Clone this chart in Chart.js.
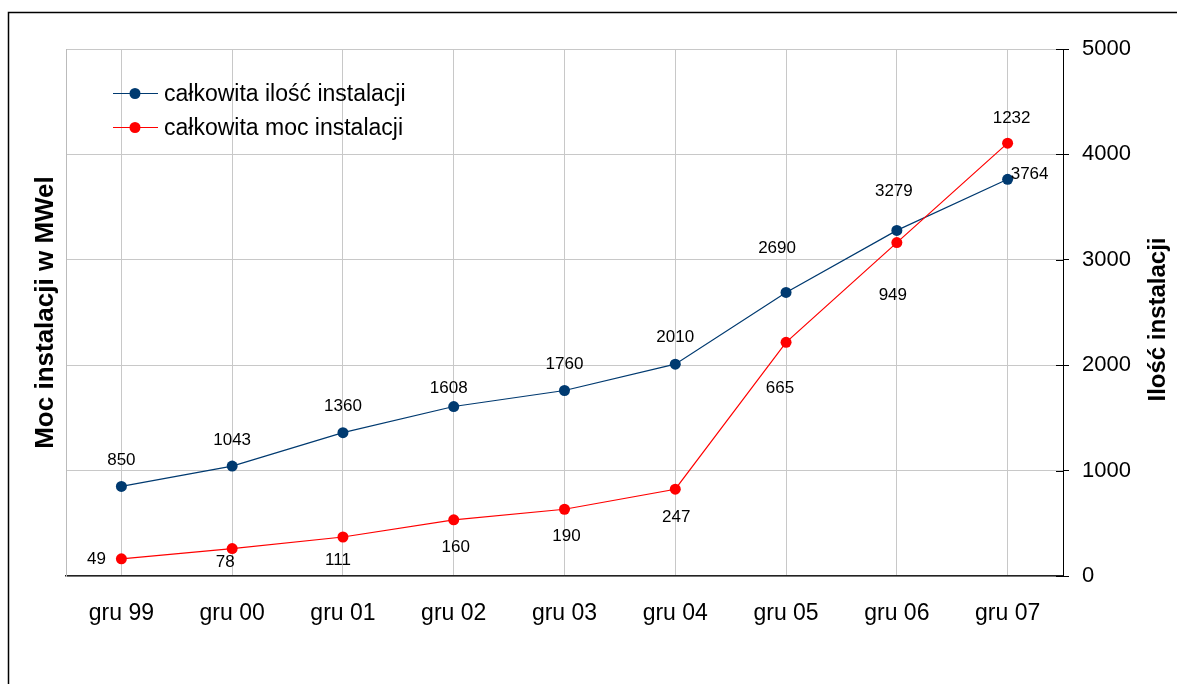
<!DOCTYPE html>
<html>
<head>
<meta charset="utf-8">
<script src="https://cdn.jsdelivr.net/npm/chart.js@4"></script>
<style>
  html, body { margin: 0; padding: 0; background: #fff; }
  #wrap { width: 1177px; height: 684px; position: relative; }
  canvas { display: block; }
</style>
</head>
<body>
<div id="wrap"><canvas id="chart" width="1177" height="684"></canvas></div>
<script>
// Months (December of each year)
const categories = ['gru 99', 'gru 00', 'gru 01', 'gru 02', 'gru 03', 'gru 04', 'gru 05', 'gru 06', 'gru 07'];
// Total number of installations (right axis)
const installCount = [850, 1043, 1360, 1608, 1760, 2010, 2690, 3279, 3764];
// Total installed power in MWel (left axis, 0–1500)
const installPower = [49, 78, 111, 160, 190, 247, 665, 949, 1232];
// Right axis tick values
const countTicks = [0, 1000, 2000, 3000, 4000, 5000];

const FONT = "'Liberation Sans', Arial, sans-serif";
const BLUE = '#003a70';
const RED = '#ff0000';
const GRID = '#c8c8c8';
const RIGHT_TITLE = 'Ilość instalacji';

// Label placement relative to each point (dx, dy)
const labelOffsets = {
  count: [[0, -27], [0, -27], [0, -27], [-5, -19], [0, -27], [0, -28], [-9, -45], [-3, -40], [22, -6]],
  power: [[-25, 0], [-7, 13], [-5, 22], [2, 27], [2, 26], [1, 27], [-6, 45], [-4, 52], [4, -26]]
};

const framePlugin = {
  id: 'frame',
  beforeDraw(chart) {
    const ctx = chart.ctx;
    ctx.save();
    ctx.fillStyle = '#fff';
    ctx.fillRect(0, 0, chart.width, chart.height);
    ctx.strokeStyle = '#000';
    ctx.lineWidth = 1.5;
    ctx.strokeRect(8.5, 12.5, chart.width + 20, chart.height + 20);
    ctx.restore();
  }
};

const innerTicksPlugin = {
  id: 'innerTicks',
  beforeDatasetsDraw(chart) {
    const s = chart.scales.yCount;
    const ctx = chart.ctx;
    const r = chart.chartArea.right;
    ctx.save();
    ctx.strokeStyle = '#000';
    ctx.lineWidth = 1;
    s.ticks.forEach(t => {
      const y = Math.round(s.getPixelForValue(t.value)) + 0.5;
      ctx.beginPath();
      ctx.moveTo(r - 7, y);
      ctx.lineTo(r, y);
      ctx.stroke();
    });
    ctx.restore();
  }
};

// Right axis title, reading bottom to top
const rightTitlePlugin = {
  id: 'rightTitle',
  afterDraw(chart) {
    const ctx = chart.ctx;
    const a = chart.chartArea;
    ctx.save();
    ctx.translate(1158, (a.top + a.bottom) / 2 + 7);
    ctx.rotate(-Math.PI / 2);
    ctx.fillStyle = '#000';
    ctx.font = 'bold 24px ' + FONT;
    ctx.textAlign = 'center';
    ctx.textBaseline = 'middle';
    ctx.fillText(RIGHT_TITLE, 0, 0);
    ctx.restore();
  }
};

const valueLabelsPlugin = {
  id: 'valueLabels',
  afterDatasetsDraw(chart) {
    const ctx = chart.ctx;
    ctx.save();
    ctx.fillStyle = '#000';
    ctx.font = '17px ' + FONT;
    ctx.textAlign = 'center';
    ctx.textBaseline = 'middle';
    chart.data.datasets.forEach((ds, di) => {
      const meta = chart.getDatasetMeta(di);
      const offs = labelOffsets[ds.key];
      meta.data.forEach((pt, i) => {
        const o = offs[i];
        ctx.fillText(String(ds.data[i]), pt.x + o[0], pt.y + o[1] + 1);
      });
    });
    ctx.restore();
  }
};

const legendPlugin = {
  id: 'insideLegend',
  afterDraw(chart) {
    const ctx = chart.ctx;
    ctx.save();
    ctx.font = '23px ' + FONT;
    ctx.textBaseline = 'middle';
    ctx.textAlign = 'left';
    chart.data.datasets.forEach((ds, i) => {
      const y = 93 + i * 34;
      ctx.strokeStyle = ds.borderColor;
      ctx.lineWidth = 1;
      ctx.beginPath();
      ctx.moveTo(113, y + 0.5);
      ctx.lineTo(158, y + 0.5);
      ctx.stroke();
      ctx.fillStyle = ds.pointBackgroundColor;
      ctx.beginPath();
      ctx.arc(135, y + 0.5, 5.5, 0, Math.PI * 2);
      ctx.fill();
      ctx.fillStyle = '#000';
      ctx.fillText(ds.label, 164, y + 2);
    });
    ctx.restore();
  }
};

new Chart(document.getElementById('chart'), {
  type: 'line',
  data: {
    labels: categories,
    datasets: [
      {
        key: 'count',
        label: 'całkowita ilość instalacji',
        data: installCount,
        yAxisID: 'yCount',
        borderColor: BLUE,
        backgroundColor: BLUE,
        pointBackgroundColor: BLUE,
        pointBorderColor: BLUE,
        borderWidth: 1.2,
        pointRadius: 5.5,
        pointBorderWidth: 0,
        tension: 0,
        order: 1
      },
      {
        key: 'power',
        label: 'całkowita moc instalacji',
        data: installPower,
        yAxisID: 'yPower',
        borderColor: RED,
        backgroundColor: RED,
        pointBackgroundColor: RED,
        pointBorderColor: RED,
        borderWidth: 1.2,
        pointRadius: 5.5,
        pointBorderWidth: 0,
        tension: 0,
        order: 0
      }
    ]
  },
  options: {
    responsive: false,
    animation: false,
    devicePixelRatio: 1,
    layout: { padding: { top: 49, left: 0, right: 0, bottom: 0 } },
    plugins: {
      legend: { display: false },
      tooltip: { enabled: false }
    },
    scales: {
      x: {
        type: 'category',
        offset: true,
        grid: { offset: false, color: GRID, drawTicks: false },
        border: { color: '#222', width: 1.5 },
        ticks: { color: '#000', font: { family: FONT, size: 23 }, padding: 24, maxRotation: 0, autoSkip: false },
        afterFit(s) { s.height = 108; }
      },
      yPower: {
        position: 'left',
        min: 0,
        max: 1500,
        ticks: { display: false },
        grid: { drawOnChartArea: false, drawTicks: false },
        border: { color: '#bbbbbb' },
        title: {
          display: true,
          text: 'Moc instalacji w MWel',
          color: '#000',
          font: { family: FONT, size: 26, weight: 'bold' },
          padding: { top: 30, bottom: 0 }
        },
        afterFit(s) { s.width = 66; }
      },
      yCount: {
        position: 'right',
        min: 0,
        max: 5000,
        afterBuildTicks(s) { s.ticks = countTicks.map(v => ({ value: v })); },
        ticks: {
          color: '#000',
          font: { family: FONT, size: 22 },
          padding: 13,
          callback: v => String(v)
        },
        grid: { color: GRID, tickColor: '#000', tickLength: 6 },
        border: { color: '#000' },
        afterFit(s) { s.width = 114; }
      }
    }
  },
  plugins: [framePlugin, innerTicksPlugin, valueLabelsPlugin, legendPlugin, rightTitlePlugin]
});
</script>
</body>
</html>
